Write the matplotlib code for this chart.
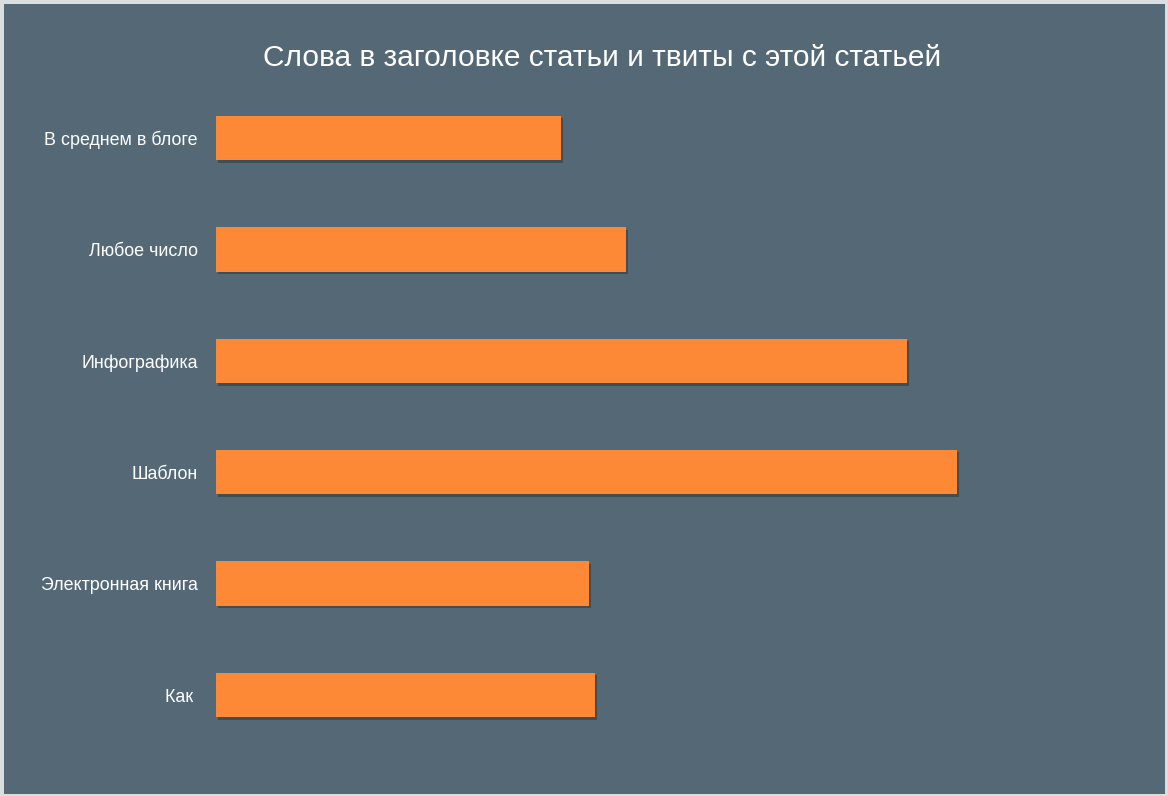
import matplotlib.pyplot as plt
import matplotlib.patheffects as pe
from matplotlib.patches import Rectangle

# Данные (оценка по картинке, шкала не показана)
categories = ["В среднем в блоге", "Любое число", "Инфографика",
              "Шаблон", "Электронная книга", "Как "]
tweets = [345, 410, 691, 741, 373, 379]

BG = "#546975"
BAR = "#fd8836"

plt.rcParams['font.family'] = ['Liberation Sans', 'DejaVu Sans']

fig = plt.figure(figsize=(11.68, 7.96), dpi=100, facecolor="#d9dee1")
fig.patches.append(Rectangle((4 / 1168, 2 / 796), 1161 / 1168, 790 / 796,
                             transform=fig.transFigure, facecolor=BG,
                             edgecolor="none", zorder=-5))

ax = fig.add_axes([216 / 1168, 45.3 / 796, 884 / 1168, 668.4 / 796])
ax.set_facecolor("none")

ypos = range(len(categories))
bars = ax.barh(ypos, tweets, height=0.4, color=BAR, zorder=3)
for b in bars:
    b.set_path_effects([pe.SimplePatchShadow(offset=(1.5, -1.8), alpha=0.25,
                                             shadow_rgbFace="black"),
                        pe.Normal()])

ax.set_xlim(0, 884)
ax.set_ylim(5.5, -0.5)
ax.set_yticks(list(ypos))
ax.set_yticklabels(categories, color="white", fontsize=12.9)
ax.tick_params(axis="y", length=0, pad=13)
ax.set_xticks([])
for s in ax.spines.values():
    s.set_visible(False)

fig.text(602 / 1168, 1 - 58.5 / 796, "Слова в заголовке статьи и твиты с этой статьей",
         ha="center", va="center", color="white", fontsize=21.5)

fig.savefig("out.png", dpi=100, facecolor=fig.get_facecolor())
